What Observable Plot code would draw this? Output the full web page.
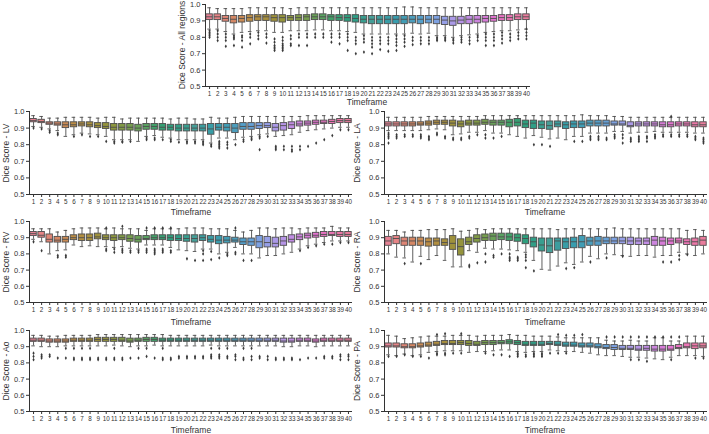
<!DOCTYPE html>
<html><head><meta charset="utf-8">
<script src="https://cdn.jsdelivr.net/npm/d3@7"></script>
<script src="https://cdn.jsdelivr.net/npm/@observablehq/plot@0.6"></script>
<style>
body{margin:0;background:#fff;font-family:"Liberation Sans",Arial,sans-serif;}
#wrap{position:relative;width:709px;height:434px;overflow:hidden;background:#fff;}
#wrap svg{position:absolute;overflow:visible;}
.lab{position:absolute;white-space:nowrap;font-size:8.5px;color:#333;transform:translate(-50%,-50%);}
.rot{transform:translate(-50%,-50%) rotate(-90deg);}
</style></head>
<body><div id="wrap"></div>
<script>
const timeframes = d3.range(1, 41);
const yTicks = [0.5, 0.6, 0.7, 0.8, 0.9, 1.0];
const anchorColors = ['#f77189', '#ce9032', '#97a431', '#32b166', '#36ada4', '#39a7d0', '#a48cf4', '#f561dd'];

// All regions
const allQ1 = [0.905,0.905,0.895,0.885,0.89,0.895,0.9,0.9,0.895,0.89, 0.9,0.9,0.9,0.905,0.905,0.9,0.9,0.895,0.89,0.885, 0.88,0.88,0.88,0.88,0.88,0.885,0.88,0.885,0.88,0.875, 0.87,0.88,0.88,0.885,0.89,0.895,0.9,0.9,0.905,0.905];
const allMed = [0.925,0.925,0.915,0.91,0.915,0.92,0.925,0.925,0.92,0.92, 0.92,0.92,0.925,0.925,0.925,0.925,0.92,0.92,0.915,0.91, 0.91,0.91,0.91,0.91,0.91,0.91,0.91,0.91,0.91,0.905, 0.9,0.905,0.91,0.91,0.915,0.915,0.92,0.92,0.925,0.925];
const allQ3 = [0.94,0.94,0.93,0.93,0.93,0.935,0.935,0.935,0.935,0.935, 0.93,0.935,0.935,0.94,0.94,0.935,0.935,0.935,0.935,0.93, 0.93,0.93,0.93,0.93,0.93,0.93,0.93,0.93,0.93,0.925, 0.925,0.925,0.93,0.93,0.93,0.93,0.935,0.935,0.94,0.94];
const allLo = [0.85,0.85,0.835,0.82,0.83,0.835,0.84,0.84,0.83,0.83, 0.84,0.84,0.84,0.845,0.845,0.84,0.84,0.835,0.83,0.82, 0.82,0.82,0.82,0.82,0.82,0.825,0.82,0.825,0.81,0.81, 0.80,0.81,0.815,0.82,0.83,0.835,0.84,0.84,0.845,0.85];
const allHi = [0.98,0.975,0.975,0.975,0.975,0.98,0.98,0.98,0.98,0.98, 0.975,0.98,0.98,0.98,0.98,0.98,0.98,0.98,0.98,0.98, 0.98,0.98,0.98,0.98,0.985,0.985,0.98,0.98,0.98,0.98, 0.98,0.98,0.98,0.98,0.98,0.98,0.98,0.98,0.98,0.98];
const allOut = [[0.80,0.81,0.82,0.83,0.84],[0.78,0.80,0.82,0.84],[0.745,0.78,0.80,0.82],[0.75,0.79,0.80,0.81],[0.74,0.78,0.80,0.81],[0.76,0.80,0.82],[0.79,0.81,0.83],[0.765,0.80,0.82],[0.72,0.73,0.74,0.75,0.77,0.79],[0.72,0.73,0.74,0.75,0.76,0.78,0.80],
 [0.75,0.76,0.79,0.81],[0.75,0.80,0.82],[0.75,0.80,0.82],[0.80,0.82],[0.80,0.82],[0.77,0.80,0.82],[0.76,0.80,0.82],[0.72,0.78,0.80,0.82],[0.70,0.76,0.78,0.80],[0.71,0.77,0.79,0.81],
 [0.70,0.74,0.76,0.78,0.80],[0.725,0.76,0.78,0.80],[0.715,0.76,0.78,0.80],[0.72,0.75,0.77,0.79,0.81],[0.745,0.77,0.79,0.81],[0.755,0.78,0.80],[0.76,0.78,0.80],[0.76,0.78,0.80],[0.78,0.79,0.80],[0.78,0.79,0.80],
 [0.765,0.78,0.79],[0.77,0.785,0.80],[0.76,0.78,0.80],[0.78,0.80,0.81],[0.75,0.78,0.80,0.82],[0.75,0.78,0.80,0.82],[0.765,0.79,0.81,0.83],[0.78,0.80,0.82],[0.79,0.81,0.83],[0.79,0.81,0.83,0.85]];

// LV
const lvQ1 = [0.935,0.93,0.92,0.915,0.9,0.905,0.91,0.905,0.9,0.895, 0.885,0.885,0.885,0.88,0.89,0.89,0.885,0.885,0.88,0.88, 0.88,0.88,0.86,0.885,0.88,0.87,0.89,0.89,0.895,0.9, 0.88,0.885,0.895,0.91,0.915,0.92,0.925,0.925,0.93,0.93];
const lvMed = [0.945,0.94,0.93,0.925,0.92,0.92,0.925,0.92,0.915,0.91, 0.905,0.905,0.905,0.9,0.91,0.91,0.905,0.905,0.9,0.9, 0.9,0.9,0.895,0.905,0.905,0.9,0.91,0.91,0.915,0.915, 0.905,0.915,0.92,0.925,0.93,0.935,0.935,0.94,0.945,0.945];
const lvQ3 = [0.955,0.95,0.935,0.935,0.935,0.935,0.935,0.935,0.93,0.93, 0.925,0.925,0.925,0.92,0.925,0.925,0.925,0.92,0.92,0.92, 0.92,0.92,0.925,0.925,0.925,0.925,0.93,0.93,0.93,0.93, 0.925,0.93,0.935,0.94,0.94,0.945,0.945,0.95,0.955,0.955];
const lvLo = [0.91,0.905,0.895,0.885,0.85,0.86,0.87,0.865,0.86,0.85, 0.83,0.83,0.83,0.82,0.85,0.855,0.845,0.84,0.83,0.83, 0.83,0.83,0.81,0.84,0.84,0.83,0.845,0.85,0.86,0.865, 0.85,0.855,0.86,0.875,0.885,0.89,0.895,0.9,0.905,0.905];
const lvHi = [0.975,0.97,0.96,0.96,0.965,0.965,0.965,0.965,0.96,0.965, 0.965,0.955,0.96,0.96,0.96,0.96,0.96,0.955,0.96,0.96, 0.955,0.955,0.965,0.96,0.96,0.965,0.97,0.97,0.97,0.97, 0.97,0.97,0.97,0.97,0.975,0.975,0.975,0.975,0.975,0.975];
const lvOut = [[0.90],[0.895],[0.875,0.885],[0.86,0.87],[],[0.85],[0.86],[0.85],[0.85],[0.82],
 [0.81,0.82],[0.815,0.82],[0.82],[],[0.83,0.84],[0.83,0.84],[0.83],[0.82,0.83],[0.815],[0.81,0.82],
 [0.81,0.82],[0.80,0.81,0.82],[0.79,0.80],[0.78,0.79,0.80,0.81,0.82],[0.78,0.80,0.815],[0.80],[0.82,0.83],[0.83,0.84],[0.77,0.84,0.85],[0.85],
 [0.77,0.78,0.79],[0.77,0.79],[0.76,0.77,0.79],[0.77,0.79],[0.79],[0.81],[0.83],[0.855],[0.89],[0.89]];

// LA
const laQ1 = [0.91,0.91,0.91,0.91,0.915,0.915,0.92,0.92,0.91,0.905, 0.915,0.915,0.92,0.915,0.915,0.905,0.91,0.9,0.895,0.895, 0.89,0.905,0.895,0.9,0.9,0.91,0.91,0.91,0.915,0.915, 0.905,0.91,0.91,0.91,0.905,0.905,0.91,0.91,0.905,0.905];
const laMed = [0.925,0.925,0.925,0.925,0.925,0.93,0.935,0.935,0.93,0.925, 0.93,0.93,0.935,0.935,0.935,0.935,0.935,0.925,0.93,0.92, 0.915,0.925,0.92,0.925,0.925,0.93,0.93,0.93,0.925,0.925, 0.915,0.925,0.925,0.925,0.92,0.92,0.925,0.925,0.92,0.92];
const laQ3 = [0.935,0.935,0.935,0.935,0.935,0.94,0.945,0.945,0.945,0.94, 0.945,0.945,0.95,0.945,0.945,0.95,0.955,0.945,0.945,0.94, 0.94,0.94,0.935,0.94,0.94,0.945,0.945,0.945,0.94,0.94, 0.935,0.935,0.935,0.935,0.935,0.935,0.935,0.935,0.935,0.935];
const laLo = [0.885,0.885,0.885,0.885,0.885,0.89,0.895,0.89,0.86,0.865, 0.875,0.875,0.885,0.87,0.87,0.86,0.85,0.84,0.855,0.845, 0.835,0.84,0.83,0.85,0.85,0.87,0.87,0.87,0.88,0.88, 0.87,0.875,0.875,0.88,0.875,0.875,0.875,0.875,0.87,0.87];
const laHi = [0.965,0.965,0.965,0.965,0.965,0.97,0.97,0.97,0.97,0.97, 0.97,0.97,0.975,0.975,0.975,0.975,0.975,0.975,0.975,0.975, 0.975,0.975,0.975,0.975,0.98,0.975,0.975,0.975,0.97,0.97, 0.965,0.965,0.965,0.965,0.965,0.965,0.965,0.965,0.965,0.965];
const laOut = [[0.81,0.84,0.85,0.86,0.87],[0.84,0.85,0.86],[0.85,0.86],[0.85,0.86],[0.84,0.85,0.86],[0.83,0.84,0.85],[0.86,0.87],[0.84,0.85],[0.83,0.84],[0.83,0.84],
 [0.84,0.85],[0.86],[0.84,0.86],[0.84],[0.85],[],[],[],[0.80],[0.80],
 [0.79],[],[],[0.82],[0.82],[0.83,0.84,0.85],[0.83,0.84,0.85],[0.83,0.84],[0.84,0.85,0.86],[0.81,0.84,0.86],
 [0.82,0.83,0.84],[0.82,0.83,0.84,0.85],[0.82,0.84,0.85],[0.84,0.85,0.86],[0.85,0.86],[0.85,0.86,0.97],[0.85,0.86],[0.85,0.86],[0.83,0.84,0.85],[0.81,0.82,0.83,0.84]];

// RV
const rvQ1 = [0.91,0.9,0.87,0.87,0.87,0.885,0.88,0.88,0.89,0.885, 0.88,0.885,0.875,0.87,0.885,0.885,0.885,0.88,0.88,0.875, 0.87,0.88,0.87,0.86,0.865,0.87,0.855,0.85,0.835,0.84, 0.84,0.85,0.87,0.885,0.895,0.9,0.905,0.91,0.905,0.905];
const rvMed = [0.925,0.915,0.89,0.885,0.89,0.9,0.9,0.9,0.905,0.9, 0.9,0.9,0.895,0.89,0.895,0.9,0.9,0.9,0.895,0.895, 0.895,0.9,0.89,0.885,0.885,0.885,0.875,0.875,0.875,0.87, 0.865,0.88,0.89,0.905,0.915,0.915,0.92,0.92,0.92,0.92];
const rvQ3 = [0.935,0.935,0.92,0.905,0.905,0.915,0.92,0.92,0.925,0.915, 0.915,0.915,0.915,0.91,0.91,0.915,0.915,0.915,0.915,0.915, 0.915,0.915,0.91,0.91,0.905,0.9,0.895,0.895,0.91,0.905, 0.9,0.905,0.915,0.92,0.925,0.93,0.935,0.935,0.935,0.935];
const rvLo = [0.89,0.875,0.80,0.82,0.825,0.855,0.845,0.85,0.845,0.845, 0.84,0.845,0.835,0.83,0.855,0.855,0.855,0.84,0.825,0.82, 0.815,0.83,0.83,0.80,0.81,0.84,0.80,0.80,0.775,0.79, 0.79,0.80,0.81,0.83,0.85,0.86,0.87,0.88,0.88,0.88];
const rvHi = [0.955,0.955,0.955,0.935,0.945,0.955,0.96,0.96,0.96,0.955, 0.96,0.955,0.955,0.955,0.945,0.955,0.955,0.955,0.955,0.96, 0.96,0.96,0.955,0.955,0.955,0.945,0.935,0.945,0.96,0.96, 0.955,0.96,0.96,0.955,0.96,0.96,0.96,0.97,0.96,0.96];
const rvOut = [[0.875],[0.82],[],[0.78,0.79],[0.78,0.79],[],[],[],[],[0.82,0.83,0.96],
 [0.81,0.83],[0.81,0.82,0.83,0.97],[0.81,0.82],[0.81,0.82],[0.81,0.82,0.83,0.96],[0.80,0.81,0.82,0.83,0.96],[0.81,0.82,0.83,0.96],[0.81,0.82,0.96],[],[0.77],
 [0.76],[0.76,0.80,0.82],[0.765,0.815],[0.775],[0.79,0.80],[0.80,0.81,0.96],[0.76],[0.76],[],[],
 [],[],[],[0.82],[0.84],[0.85],[0.86],[0.86],[0.87],[0.87]];

// RA
const raQ1 = [0.85,0.86,0.85,0.85,0.85,0.845,0.85,0.85,0.825,0.79, 0.855,0.87,0.88,0.88,0.885,0.88,0.875,0.86,0.84,0.815, 0.805,0.82,0.83,0.835,0.835,0.85,0.85,0.86,0.86,0.86, 0.855,0.855,0.855,0.85,0.85,0.855,0.865,0.855,0.85,0.85];
const raMed = [0.88,0.895,0.88,0.88,0.88,0.875,0.88,0.87,0.865,0.845, 0.875,0.895,0.9,0.91,0.905,0.905,0.9,0.895,0.875,0.855, 0.85,0.88,0.875,0.875,0.875,0.88,0.88,0.88,0.88,0.88, 0.88,0.88,0.88,0.885,0.88,0.88,0.88,0.875,0.875,0.885];
const raQ3 = [0.905,0.91,0.9,0.9,0.9,0.895,0.895,0.89,0.91,0.89, 0.9,0.915,0.92,0.925,0.925,0.925,0.92,0.915,0.9,0.895, 0.895,0.895,0.895,0.9,0.91,0.9,0.905,0.9,0.9,0.9, 0.9,0.895,0.895,0.905,0.9,0.895,0.895,0.89,0.895,0.905];
const raLo = [0.80,0.78,0.775,0.75,0.785,0.765,0.79,0.76,0.72,0.72, 0.82,0.81,0.835,0.83,0.83,0.825,0.82,0.81,0.76,0.705, 0.70,0.725,0.745,0.735,0.75,0.785,0.77,0.80,0.795,0.79, 0.785,0.79,0.79,0.78,0.79,0.79,0.81,0.80,0.79,0.80];
const raHi = [0.945,0.945,0.935,0.945,0.945,0.95,0.95,0.95,0.955,0.94, 0.945,0.955,0.95,0.955,0.955,0.955,0.955,0.955,0.955,0.955, 0.955,0.95,0.955,0.955,0.955,0.955,0.955,0.955,0.96,0.955, 0.955,0.955,0.955,0.955,0.955,0.955,0.955,0.945,0.95,0.945];
const raOut = [[],[],[0.74],[],[0.74],[],[],[],[],[],
 [0.72,0.73],[0.745],[0.75,0.80],[0.78,0.79],[0.80],[0.76,0.77,0.78,0.80],[0.76,0.77,0.78],[0.715,0.76,0.78,0.795],[0.695],[],
 [],[],[0.71],[0.715],[],[0.75],[],[0.775],[],[0.785],
 [],[],[],[],[0.75],[0.75],[0.765,0.79],[0.795],[],[]];

// Ao
const aoQ1 = [0.93,0.93,0.925,0.925,0.925,0.93,0.93,0.93,0.93,0.93, 0.93,0.93,0.925,0.93,0.93,0.93,0.93,0.93,0.93,0.93, 0.93,0.93,0.93,0.93,0.93,0.93,0.93,0.93,0.93,0.93, 0.93,0.925,0.925,0.93,0.93,0.925,0.93,0.93,0.93,0.93];
const aoMed = [0.94,0.94,0.935,0.935,0.935,0.94,0.94,0.94,0.945,0.945, 0.945,0.94,0.935,0.94,0.945,0.945,0.94,0.94,0.94,0.94, 0.94,0.94,0.94,0.94,0.94,0.94,0.94,0.94,0.94,0.94, 0.94,0.935,0.935,0.94,0.94,0.935,0.94,0.94,0.94,0.94];
const aoQ3 = [0.95,0.95,0.945,0.945,0.945,0.95,0.95,0.95,0.955,0.955, 0.955,0.955,0.95,0.95,0.955,0.955,0.95,0.95,0.95,0.95, 0.95,0.95,0.95,0.95,0.95,0.95,0.95,0.95,0.95,0.95, 0.95,0.95,0.95,0.95,0.95,0.945,0.95,0.95,0.95,0.95];
const aoLo = [0.905,0.9,0.9,0.9,0.905,0.905,0.905,0.905,0.905,0.905, 0.91,0.905,0.9,0.905,0.905,0.91,0.905,0.905,0.905,0.905, 0.905,0.905,0.91,0.905,0.905,0.905,0.905,0.905,0.905,0.905, 0.905,0.9,0.9,0.905,0.905,0.9,0.905,0.905,0.905,0.905];
const aoHi = [0.97,0.97,0.965,0.965,0.97,0.97,0.97,0.97,0.975,0.975, 0.975,0.975,0.975,0.975,0.975,0.975,0.975,0.97,0.97,0.97, 0.97,0.97,0.97,0.97,0.97,0.97,0.97,0.97,0.97,0.97, 0.97,0.97,0.97,0.97,0.97,0.97,0.97,0.97,0.97,0.97];
const aoOut = [[0.82,0.84,0.86],[0.83,0.84,0.85],[0.84,0.85],[0.83],[0.83,0.89],[0.82,0.83,0.89],[0.82,0.83,0.89],[0.82,0.83,0.89],[0.82,0.83],[0.82,0.83],
 [0.82,0.83,0.89],[0.82,0.83],[0.83],[0.83,0.89],[0.84,0.89],[0.83],[0.82,0.83,0.89],[0.82,0.83],[0.83,0.84],[0.83,0.84],
 [0.83,0.84],[0.83,0.84],[0.83,0.84,0.85,0.89],[0.83,0.84,0.85,0.89],[0.83,0.84,0.89],[0.82,0.84,0.85],[0.82,0.83,0.89],[0.82,0.84,0.89],[0.83,0.84],[0.82,0.84],
 [0.82,0.83],[0.82,0.83],[0.82,0.83],[0.82],[0.83],[0.83],[0.83,0.84],[0.83,0.84],[0.82,0.84,0.85],[0.82,0.84,0.85]];

// PA
const paQ1 = [0.895,0.895,0.89,0.89,0.895,0.9,0.905,0.91,0.91,0.91, 0.905,0.905,0.91,0.91,0.915,0.915,0.91,0.905,0.905,0.905, 0.91,0.905,0.9,0.9,0.895,0.895,0.89,0.885,0.88,0.88, 0.88,0.875,0.875,0.87,0.87,0.875,0.885,0.89,0.885,0.89];
const paMed = [0.905,0.905,0.9,0.9,0.905,0.91,0.915,0.92,0.92,0.925, 0.92,0.915,0.925,0.925,0.925,0.93,0.925,0.915,0.915,0.915, 0.92,0.915,0.91,0.91,0.905,0.905,0.9,0.895,0.895,0.89, 0.89,0.885,0.89,0.885,0.885,0.885,0.895,0.9,0.905,0.905];
const paQ3 = [0.92,0.92,0.915,0.915,0.92,0.925,0.93,0.935,0.935,0.935, 0.935,0.93,0.935,0.935,0.935,0.94,0.935,0.93,0.93,0.93, 0.93,0.93,0.925,0.925,0.92,0.92,0.915,0.91,0.91,0.905, 0.905,0.905,0.905,0.905,0.905,0.905,0.91,0.92,0.92,0.92];
const paLo = [0.85,0.845,0.855,0.845,0.85,0.865,0.87,0.875,0.875,0.875, 0.865,0.87,0.87,0.875,0.88,0.88,0.87,0.865,0.87,0.87, 0.88,0.875,0.87,0.87,0.865,0.86,0.85,0.845,0.845,0.84, 0.835,0.835,0.83,0.825,0.82,0.835,0.845,0.845,0.845,0.84];
const paHi = [0.97,0.965,0.95,0.955,0.96,0.965,0.965,0.965,0.97,0.97, 0.97,0.965,0.97,0.97,0.97,0.975,0.97,0.97,0.965,0.965, 0.965,0.96,0.955,0.955,0.955,0.955,0.955,0.94,0.935,0.935, 0.94,0.935,0.935,0.955,0.955,0.935,0.935,0.965,0.965,0.965];
const paOut = [[0.84],[0.84],[0.85],[0.84],[0.84],[0.83],[0.85,0.86,0.975],[0.85,0.86,0.98],[0.86],[0.86,0.98],
 [],[],[0.86],[0.85],[0.85],[0.84],[0.84,0.85,0.86],[0.84,0.85],[0.84,0.85,0.86],[0.84,0.85,0.86],
 [0.86],[0.86,0.975],[0.86,0.97],[0.97],[0.975],[],[],[0.96],[0.96],[0.96],
 [0.82,0.96],[0.82,0.96],[0.81,0.96],[0.96],[0.96],[0.82,0.96],[0.96],[],[0.83],[0.83]];

// husl-like palette (40 hues), desaturated like seaborn boxplot
const palette = timeframes.map((t, i) => {
  const p = i / 5, k = Math.floor(p), f = p - k;
  const c = d3.hsl(d3.interpolateHcl(anchorColors[k % 8], anchorColors[(k + 1) % 8])(f));
  c.s *= 0.75;
  return c.formatHex();
});

const edge = "#4d4d4d";
const ink = "#333";
const panels = [
  {label: "Dice Score - All regions", q1: allQ1, med: allMed, q3: allQ3, lo: allLo, hi: allHi, out: allOut, x0: 205, x1: 530, yTop: 4, yBot: 86, labX: 182, tfX: 367, tfY: 102},
  {label: "Dice Score - LV", q1: lvQ1, med: lvMed, q3: lvQ3, lo: lvLo, hi: lvHi, out: lvOut, x0: 29, x1: 352, yTop: 111, yBot: 194, labX: 6, tfX: 191, tfY: 212},
  {label: "Dice Score - LA", q1: laQ1, med: laMed, q3: laQ3, lo: laLo, hi: laHi, out: laOut, x0: 384, x1: 707, yTop: 111, yBot: 194, labX: 357, tfX: 545, tfY: 212},
  {label: "Dice Score - RV", q1: rvQ1, med: rvMed, q3: rvQ3, lo: rvLo, hi: rvHi, out: rvOut, x0: 29, x1: 352, yTop: 221, yBot: 302, labX: 6, tfX: 191, tfY: 322},
  {label: "Dice Score - RA", q1: raQ1, med: raMed, q3: raQ3, lo: raLo, hi: raHi, out: raOut, x0: 384, x1: 707, yTop: 221, yBot: 302, labX: 357, tfX: 545, tfY: 322},
  {label: "Dice Score - Ao", q1: aoQ1, med: aoMed, q3: aoQ3, lo: aoLo, hi: aoHi, out: aoOut, x0: 29, x1: 352, yTop: 330, yBot: 411, labX: 6, tfX: 191, tfY: 430},
  {label: "Dice Score - PA", q1: paQ1, med: paMed, q3: paQ3, lo: paLo, hi: paHi, out: paOut, x0: 384, x1: 707, yTop: 330, yBot: 411, labX: 357, tfX: 545, tfY: 430}
];

const wrap = document.getElementById("wrap");
const mL = 26, mR = 2, mT = 6, mB = 16;
for (const p of panels) {
  const rows = timeframes.map((t, i) => ({t, q1: p.q1[i], med: p.med[i], q3: p.q3[i], lo: p.lo[i], hi: p.hi[i]}));
  const outs = timeframes.flatMap((t, i) => p.out[i].map(v => ({t, v})));
  const svg = Plot.plot({
    width: p.x1 - p.x0 + mL + mR,
    height: p.yBot - p.yTop + mT + mB,
    marginLeft: mL, marginRight: mR, marginTop: mT, marginBottom: mB,
    style: {fontFamily: "Liberation Sans, Arial, sans-serif", background: "transparent", overflow: "visible"},
    x: {domain: [0.5, 40.5], axis: null},
    y: {domain: [0.5, 1.0], axis: null},
    color: {type: "ordinal", domain: timeframes, range: palette},
    marks: [
      Plot.ruleX(rows, {x: "t", y1: "lo", y2: "q1", stroke: edge, strokeWidth: 0.9}),
      Plot.ruleX(rows, {x: "t", y1: "q3", y2: "hi", stroke: edge, strokeWidth: 0.9}),
      Plot.ruleY(rows, {y: "lo", x1: d => d.t - 0.22, x2: d => d.t + 0.22, stroke: edge, strokeWidth: 0.9}),
      Plot.ruleY(rows, {y: "hi", x1: d => d.t - 0.22, x2: d => d.t + 0.22, stroke: edge, strokeWidth: 0.9}),
      Plot.rect(rows, {x1: d => d.t - 0.4, x2: d => d.t + 0.4, y1: "q1", y2: "q3", fill: "t", stroke: edge, strokeWidth: 0.9}),
      Plot.ruleY(rows, {y: "med", x1: d => d.t - 0.4, x2: d => d.t + 0.4, stroke: edge, strokeWidth: 0.9}),
      Plot.dot(outs, {x: "t", y: "v", symbol: "diamond", r: 1.15, fill: "#3a3a3a", stroke: "none"}),
      Plot.ruleX([0.5], {y1: 0.5, y2: 1.0, stroke: ink, strokeWidth: 1}),
      Plot.ruleY([0.5], {stroke: ink, strokeWidth: 1}),
      Plot.axisY({ticks: yTicks, tickFormat: d => d.toFixed(1), tickSize: 3, tickPadding: 2, fontSize: 7.5, color: ink, label: null}),
      Plot.axisX({ticks: timeframes, tickSize: 3, tickPadding: 2, fontSize: 6.3, color: ink, label: null})
    ]
  });
  svg.style.left = (p.x0 - mL) + "px";
  svg.style.top = (p.yTop - mT) + "px";
  wrap.appendChild(svg);

  const yl = document.createElement("div");
  yl.className = "lab rot";
  yl.textContent = p.label;
  yl.style.left = p.labX + "px";
  yl.style.top = ((p.yTop + p.yBot) / 2) + "px";
  wrap.appendChild(yl);

  const xl = document.createElement("div");
  xl.className = "lab";
  xl.textContent = "Timeframe";
  xl.style.left = p.tfX + "px";
  xl.style.top = p.tfY + "px";
  wrap.appendChild(xl);
}
</script></body></html>
